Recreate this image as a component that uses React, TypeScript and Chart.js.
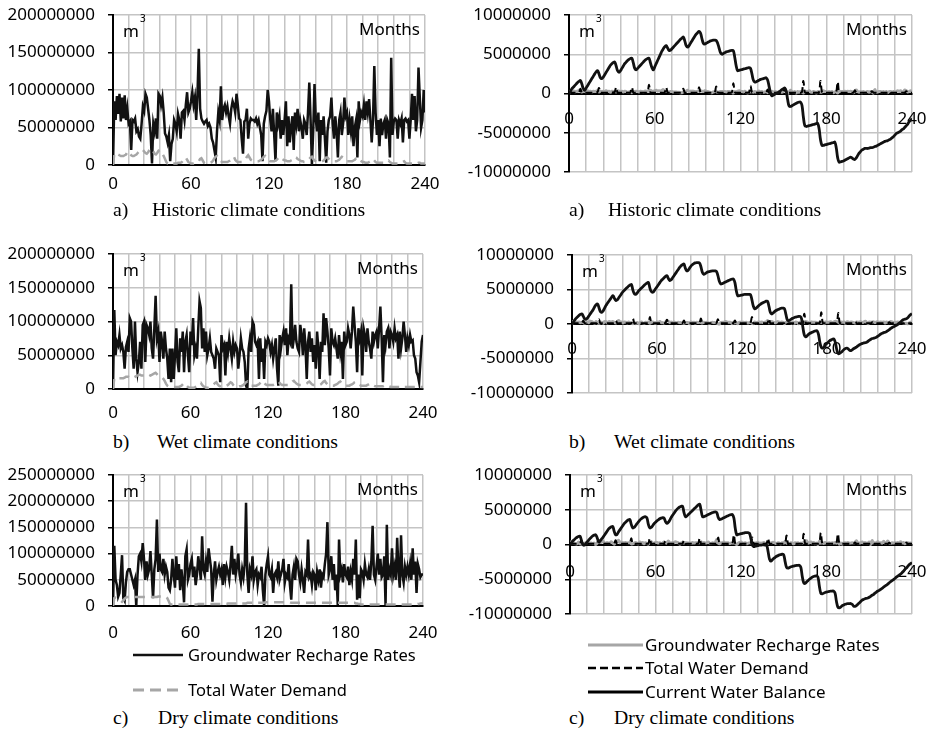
import React, { useEffect, useRef } from "react";
import { Chart, registerables } from "chart.js";

Chart.register(...registerables);

// ---------------- DATA ----------------
const X_LABELS = [0, 60, 120, 180, 240];
const UNIT = 1000000; // values below are in millions of m3

// Left column: Groundwater Recharge Rates / Total Water Demand (months 0..240)
const HIST_RECHARGE = [
  0, 85, 60, 92, 68, 95, 58, 90, 62, 93, 60, 75,
  55, 58, 20, 60, 58, 62, 45, 48, 38, 35, 55, 78,
  72, 95, 90, 75, 60, 40, 2, 55, 45, 62, 35, 95,
  92, 80, 90, 70, 42, 38, 30, 40, 5, 28, 35, 60,
  55, 45, 68, 60, 35, 70, 72, 60, 80, 97, 70, 75,
  85, 97, 80, 90, 60, 95, 155, 75, 62, 58, 55, 58,
  60, 52, 55, 50, 35, 30, 20, 10, 45, 70, 60, 105,
  60, 75, 80, 70, 78, 65, 55, 75, 85, 80, 70, 95,
  80, 62, 60, 35, 15, 58, 60, 75, 35, 55, 62, 60,
  60, 58, 62, 55, 60, 50, 40, 5, 55, 65, 72, 100,
  85, 60, 45, 75, 40, 5, 70, 55, 65, 35, 60, 40,
  60, 85, 25, 65, 30, 50, 65, 20, 70, 55, 75, 45,
  60, 50, 35, 60, 55, 40, 70, 110, 60, 0, 45, 108,
  60, 45, 70, 5, 60, 40, 65, 35, 3, 45, 60, 65,
  90, 55, 35, 65, 45, 10, 60, 70, 40, 55, 90, 65,
  70, 40, 60, 45, 65, 25, 50, 60, 10, 85, 60, 70,
  65, 80, 60, 85, 70, 88, 60, 30, 60, 132, 70, 40,
  60, 25, 62, 40, 55, 60, 35, 60, 55, 10, 143, 40,
  58, 62, 60, 35, 60, 55, 62, 30, 60, 62, 58, 60,
  35, 60, 95, 60, 92, 45, 60, 130, 90, 50, 60, 100,
  70,
];
const HIST_DEMAND = [
  0, 15, 16, 15, 14, 13, 12, 12, 12, 13, 14, 17,
  18, 15, 13, 12, 12, 13, 14, 16, 18, 20, 21, 20,
  18, 16, 15, 17, 20, 22, 21, 18, 15, 14, 16, 19,
  20, 18, 15, 12, 8, 4, 2, 2, 3, 3, 2, 2,
  2, 2, 3, 3, 3, 4, 6, 9, 10, 7, 4, 3,
  2, 2, 2, 3, 3, 4, 5, 8, 9, 6, 3, 2,
  2, 2, 2, 3, 4, 6, 9, 11, 12, 8, 6, 5,
  4, 4, 4, 4, 4, 5, 6, 8, 10, 11, 7, 5,
  4, 4, 4, 4, 5, 6, 8, 11, 13, 10, 7, 6,
  5, 5, 5, 5, 5, 6, 7, 9, 11, 12, 9, 7,
  6, 5, 5, 5, 5, 6, 7, 9, 11, 10, 8, 7,
  6, 6, 5, 5, 5, 6, 7, 9, 11, 10, 8, 7,
  6, 5, 5, 4, 4, 5, 6, 8, 10, 11, 8, 6,
  5, 4, 4, 4, 4, 5, 6, 8, 10, 10, 8, 6,
  5, 5, 5, 5, 5, 6, 7, 9, 11, 10, 8, 6,
  5, 5, 5, 5, 5, 6, 7, 9, 10, 8, 6, 5,
  4, 4, 3, 3, 3, 4, 5, 7, 8, 6, 4, 3,
  3, 3, 3, 3, 3, 3, 4, 5, 6, 4, 3, 2,
  2, 2, 2, 2, 2, 2, 3, 4, 5, 3, 2, 2,
  2, 2, 2, 2, 2, 2, 2, 3, 3, 2, 2, 2,
  2,
];
const WET_RECHARGE = [
  0, 117, 50, 70, 65, 80, 60, 65, 55, 30, 62, 70,
  55, 105, 100, 60, 30, 100, 45, 25, 40, 70, 30, 95,
  100, 40, 95, 90, 80, 100, 60, 45, 90, 138, 75, 85,
  40, 85, 70, 45, 85, 60, 45, 15, 60, 10, 60, 15,
  50, 90, 40, 25, 75, 55, 85, 25, 70, 80, 50, 25,
  85, 65, 105, 50, 60, 45, 90, 130, 120, 60, 90, 55,
  85, 50, 60, 75, 55, 50, 45, 30, 60, 55, 50, 10,
  80, 60, 65, 20, 70, 55, 75, 60, 45, 70, 55, 65,
  60, 30, 50, 75, 60, 55, 40, 5, 0, 60, 75, 55,
  100, 95, 70, 65, 70, 15, 75, 40, 60, 15, 70, 65,
  75, 70, 55, 65, 45, 60, 75, 30, 5, 80, 60, 75,
  85, 65, 90, 50, 75, 70, 155, 60, 75, 95, 70, 60,
  55, 95, 80, 50, 90, 65, 15, 70, 85, 55, 75, 40,
  65, 30, 85, 60, 15, 70, 55, 112, 65, 105, 85, 60,
  20, 90, 70, 65, 75, 60, 45, 80, 55, 70, 15, 85,
  65, 70, 90, 80, 60, 85, 122, 95, 70, 25, 90, 75,
  85, 20, 90, 80, 55, 90, 70, 60, 45, 85, 70, 80,
  85, 60, 90, 122, 75, 10, 80, 65, 85, 90, 60, 85,
  80, 70, 90, 75, 80, 45, 85, 60, 75, 100, 80, 55,
  75, 65, 80, 70, 72, 50, 45, 25, 20, 10, 40, 70,
  80,
];
const WET_DEMAND = [
  0, 16, 16, 16, 16, 16, 16, 16, 16, 17, 18, 18,
  18, 17, 16, 16, 17, 18, 19, 20, 21, 21, 20, 20,
  20, 21, 22, 22, 21, 20, 21, 22, 23, 24, 22, 20,
  19, 18, 17, 15, 12, 8, 5, 4, 3, 3, 3, 3,
  3, 3, 3, 3, 4, 5, 7, 9, 8, 5, 3, 2,
  2, 2, 2, 2, 3, 4, 6, 8, 9, 6, 4, 3,
  2, 2, 2, 3, 4, 5, 7, 9, 10, 7, 5, 4,
  3, 3, 3, 4, 5, 6, 8, 10, 9, 6, 4, 3,
  3, 3, 4, 4, 5, 6, 8, 10, 11, 8, 6, 5,
  5, 5, 5, 5, 6, 7, 9, 11, 12, 9, 7, 6,
  6, 6, 6, 6, 6, 7, 8, 10, 11, 9, 7, 6,
  6, 6, 6, 6, 6, 7, 9, 11, 12, 10, 8, 7,
  6, 6, 6, 6, 6, 7, 8, 10, 11, 9, 7, 6,
  6, 6, 6, 6, 6, 7, 9, 11, 12, 9, 7, 6,
  5, 5, 5, 5, 6, 7, 8, 10, 11, 9, 7, 6,
  5, 5, 5, 5, 6, 7, 8, 10, 11, 9, 7, 6,
  5, 5, 5, 5, 5, 6, 7, 8, 8, 6, 5, 4,
  4, 4, 4, 4, 4, 4, 5, 6, 6, 5, 4, 3,
  3, 3, 3, 3, 3, 3, 3, 4, 4, 3, 3, 3,
  3, 3, 3, 3, 3, 3, 3, 4, 4, 3, 3, 3,
  3,
];
const DRY_RECHARGE = [
  0, 115, 50, 40, 18, 25, 60, 97, 15, 10, 45, 65,
  70, 70, 60, 50, 40, 50, 0, 60, 95, 100, 85, 120,
  90, 50, 85, 60, 70, 105, 60, 15, 70, 90, 165, 65,
  100, 70, 65, 90, 60, 75, 65, 35, 30, 50, 90, 60,
  35, 95, 50, 80, 30, 70, 45, 7, 95, 108, 50, 60,
  80, 90, 55, 75, 40, 60, 95, 75, 50, 133, 70, 60,
  85, 65, 110, 90, 70, 8, 60, 85, 50, 65, 75, 60,
  70, 40, 80, 55, 75, 65, 50, 80, 115, 60, 90, 60,
  75, 100, 60, 45, 70, 55, 80, 197, 60, 25, 70, 60,
  95, 50, 65, 70, 40, 60, 55, 75, 30, 0, 60, 80,
  95, 60, 55, 70, 25, 60, 65, 55, 85, 50, 60, 70,
  90, 45, 60, 55, 80, 40, 12, 60, 75, 50, 90, 85,
  60, 45, 70, 50, 25, 65, 60, 127, 55, 60, 40, 65,
  60, 30, 65, 50, 70, 35, 60, 55, 80, 100, 160, 60,
  70, 95, 50, 80, 30, 60, 2, 127, 60, 70, 45, 80,
  60, 55, 75, 40, 65, 50, 90, 60, 127, 12, 60, 15,
  70, 65, 50, 80, 60, 55, 70, 50, 85, 153, 60, 50,
  75, 100, 60, 90, 55, 60, 95, 2, 155, 50, 70, 60,
  110, 60, 75, 50, 130, 70, 35, 135, 60, 45, 75, 60,
  75, 60, 80, 50, 110, 60, 85, 25, 80, 70, 55, 60,
  60,
];
const DRY_DEMAND = [
  0, 15, 16, 15, 14, 12, 10, 8, 10, 14, 16, 17,
  17, 17, 17, 17, 17, 17, 17, 17, 17, 17, 17, 17,
  17, 17, 17, 17, 17, 17, 17, 17, 17, 17, 17, 18,
  18, 18, 18, 18, 18, 17, 15, 10, 4, 3, 3, 3,
  3, 3, 3, 3, 3, 3, 3, 3, 3, 3, 3, 3,
  3, 3, 3, 3, 3, 3, 4, 4, 4, 4, 4, 4,
  4, 4, 4, 4, 4, 4, 4, 4, 4, 4, 4, 4,
  4, 4, 4, 4, 4, 5, 5, 5, 5, 5, 5, 5,
  5, 5, 5, 5, 5, 5, 5, 5, 6, 6, 6, 6,
  6, 6, 6, 6, 6, 6, 6, 6, 6, 6, 7, 7,
  7, 7, 7, 7, 7, 7, 7, 7, 7, 7, 7, 7,
  7, 7, 7, 7, 7, 7, 6, 6, 6, 6, 6, 6,
  6, 6, 6, 6, 6, 6, 6, 6, 6, 6, 6, 6,
  6, 6, 6, 6, 6, 6, 6, 6, 6, 6, 6, 6,
  6, 6, 6, 6, 6, 6, 6, 6, 6, 6, 6, 6,
  6, 6, 6, 6, 6, 6, 6, 6, 5, 5, 4, 4,
  3, 3, 3, 3, 3, 3, 3, 3, 3, 3, 3, 3,
  3, 3, 3, 3, 3, 3, 3, 3, 3, 3, 3, 3,
  3, 3, 3, 3, 3, 3, 3, 3, 3, 3, 3, 3,
  3, 3, 3, 3, 3, 3, 3, 3, 4, 4, 5, 5,
  6,
];

// Right column: Groundwater Recharge Rates / Total Water Demand / Current Water Balance
const HIST_R_RECHARGE = [
  0, 0.3, 0.25, 0.35, 0.2, 0.3, 0.25, 0.4, 0.3, 0.2, 0.25, 0.3,
  0.2, 0.35, 0.25, 0.3, 0.2, 0.3, 0.25, 0.3, 0.35, 0.2, 0.3, 0.25,
  0.3, 0.2, 0.35, 0.25, 0.3, 0.15, 0.3, 0.25, 0.3, 0.2, 0.35, 0.3,
  0.25, 0.3, 0.2, 0.3, 0.25, 0.15, 0.2, 0.25, 0.1, 0.2, 0.25, 0.3,
  0.25, 0.2, 0.3, 0.25, 0.2, 0.3, 0.3, 0.25, 0.35, 0.4, 0.3, 0.3,
  0.35, 0.4, 0.3, 0.35, 0.25, 0.4, 0.5, 0.3, 0.25, 0.25, 0.2, 0.25,
  0.25, 0.2, 0.2, 0.2, 0.15, 0.15, 0.1, 0.1, 0.2, 0.25, 0.3, 0.4,
  0.25, 0.3, 0.3, 0.3, 0.25, 0.2, 0.3, 0.3, 0.35, 0.3, 0.25, 0.35,
  0.3, 0.25, 0.2, 0.15, 0.1, 0.2, 0.25, 0.3, 0.15, 0.2, 0.25, 0.25,
  0.25, 0.25, 0.2, 0.25, 0.25, 0.2, 0.15, 0.05, 0.25, 0.2, 0.3, 0.35,
  0.3, 0.25, 0.2, 0.3, 0.15, 0.05, 0.25, 0.2, 0.25, 0.15, 0.25, 0.15,
  0.25, 0.3, 0.1, 0.25, 0.15, 0.2, 0.25, 0.1, 0.25, 0.2, 0.3, 0.2,
  0.25, 0.2, 0.15, 0.25, 0.2, 0.15, 0.25, 0.4, 0.25, 0.0, 0.2, 0.4,
  0.25, 0.2, 0.25, 0.05, 0.25, 0.15, 0.25, 0.15, 0.05, 0.2, 0.25, 0.25,
  0.35, 0.2, 0.15, 0.25, 0.2, 0.05, 0.25, 0.25, 0.15, 0.2, 0.35, 0.25,
  0.25, 0.15, 0.25, 0.2, 0.25, 0.1, 0.2, 0.25, 0.05, 0.3, 0.25, 0.25,
  0.25, 0.3, 0.25, 0.3, 0.25, 0.3, 0.25, 0.1, 0.25, 0.45, 0.25, 0.15,
  0.25, 0.1, 0.25, 0.15, 0.2, 0.25, 0.15, 0.25, 0.2, 0.05, 0.5, 0.15,
  0.2, 0.25, 0.25, 0.15, 0.25, 0.2, 0.25, 0.1, 0.25, 0.25, 0.2, 0.25,
  0.15, 0.25, 0.35, 0.25, 0.35, 0.15, 0.25, 0.45, 0.35, 0.2, 0.25, 0.35,
  0.25,
];
const HIST_R_DEMAND = [
  0, 0.15, 0.1, 0.1, 0.1, 0.1, 0.1, 0.15, 0.6, 0.1, 0.1, 0.1,
  0.1, 0.1, 0.1, 0.1, 0.1, 0.1, 0.1, 0.15, 0.2, 0.7, 0.1, 0.1,
  0.1, 0.1, 0.1, 0.1, 0.1, 0.1, 0.1, 0.15, 0.2, 0.8, 0.1, 0.1,
  0.1, 0.1, 0.1, 0.1, 0.1, 0.1, 0.1, 0.15, 0.8, 0.1, 0.1, 0.1,
  0.1, 0.1, 0.1, 0.1, 0.1, 0.1, 0.1, 0.15, 1.1, 0.1, 0.1, 0.1,
  0.1, 0.1, 0.1, 0.1, 0.1, 0.1, 0.1, 0.15, 0.8, 0.1, 0.1, 0.1,
  0.1, 0.1, 0.1, 0.1, 0.1, 0.1, 0.1, 0.15, 0.6, 0.1, 0.1, 0.1,
  0.1, 0.1, 0.1, 0.1, 0.1, 0.1, 0.1, 0.8, 0.15, 0.1, 0.1, 0.1,
  0.1, 0.1, 0.1, 0.1, 0.1, 0.1, 0.1, 0.9, 0.15, 0.1, 0.1, 0.1,
  0.1, 0.1, 0.1, 0.1, 0.1, 0.1, 0.15, 1.3, 0.15, 0.1, 0.1, 0.1,
  0.1, 0.1, 0.1, 0.1, 0.1, 0.1, 0.15, 1.0, 0.15, 0.1, 0.1, 0.1,
  0.1, 0.1, 0.1, 0.1, 0.1, 0.1, 0.1, 0.5, 0.1, 0.1, 0.1, 0.1,
  0.1, 0.1, 0.1, 0.1, 0.1, 0.1, 0.1, 0.7, 0.1, 0.1, 0.1, 0.1,
  0.1, 0.1, 0.1, 0.1, 0.1, 0.1, 0.1, 0.2, 1.6, 0.15, 0.1, 0.1,
  0.1, 0.1, 0.1, 0.1, 0.1, 0.1, 0.1, 0.2, 1.6, 0.15, 0.1, 0.1,
  0.1, 0.1, 0.1, 0.1, 0.1, 0.1, 0.1, 0.2, 1.5, 0.15, 0.1, 0.1,
  0.1, 0.1, 0.1, 0.1, 0.1, 0.1, 0.1, 0.1, 0.4, 0.1, 0.1, 0.1,
  0.1, 0.1, 0.1, 0.1, 0.1, 0.1, 0.1, 0.1, 0.3, 0.1, 0.1, 0.1,
  0.1, 0.1, 0.1, 0.1, 0.1, 0.1, 0.1, 0.1, 0.3, 0.1, 0.1, 0.1,
  0.1, 0.1, 0.1, 0.1, 0.1, 0.1, 0.1, 0.1, 0.3, 0.1, 0.1, 0.1,
  0.1,
];
const HIST_R_BALANCE = [
  0, 0.3, 0.6, 0.8, 1.0, 1.2, 1.4, 1.55, 1.65, 1.2, 0.6, 0.4,
  0.7, 1.0, 1.3, 1.6, 1.9, 2.2, 2.5, 2.75, 2.9, 2.5, 2.0, 1.9,
  2.1, 2.4, 2.7, 3.0, 3.3, 3.6, 3.8, 3.95, 4.0, 3.5, 2.9, 2.7,
  2.9, 3.2, 3.5, 3.8, 4.0, 4.2, 4.35, 4.45, 4.5, 3.9, 3.2, 3.0,
  3.2, 3.4, 3.6, 3.8, 4.0, 4.2, 4.35, 4.45, 4.5, 3.9, 3.3, 3.0,
  3.4, 3.8, 4.2, 4.6, 5.0, 5.4, 5.7, 5.95, 6.1, 5.8, 5.5, 5.5,
  5.7, 5.9, 6.1, 6.3, 6.5, 6.7, 6.9, 7.05, 7.2, 6.7, 6.1, 5.9,
  6.1, 6.4, 6.7, 7.0, 7.3, 7.55, 7.75, 7.9, 7.7, 7.0, 6.4, 6.3,
  6.4, 6.5, 6.6, 6.7, 6.75, 6.8, 6.8, 6.75, 6.4, 5.8, 5.2, 5.0,
  5.1, 5.2, 5.3, 5.35, 5.4, 5.45, 5.5, 5.45, 4.6, 3.5, 2.9, 2.95,
  3.0, 3.05, 3.1, 3.15, 3.2, 3.25, 3.3, 3.2, 2.5, 1.7, 1.45, 1.5,
  1.6, 1.7, 1.8, 1.85, 1.9, 1.95, 2.0, 1.7, 0.9, 0.1, -0.3, -0.2,
  -0.1, 0.0, 0.1, 0.2, 0.35, 0.5, 0.6, 0.7, 0.3, -0.8, -1.6, -1.65,
  -1.55, -1.45, -1.35, -1.25, -1.15, -1.1, -1.1, -1.5, -3.0, -4.1, -4.2, -4.15,
  -4.1, -4.05, -4.0, -3.95, -3.9, -3.85, -3.8, -4.5, -5.9, -6.6, -6.6, -6.55,
  -6.5, -6.45, -6.4, -6.35, -6.3, -6.25, -6.2, -6.9, -8.2, -8.75, -8.7, -8.65,
  -8.6, -8.5, -8.4, -8.3, -8.2, -8.1, -8.2, -8.35, -8.4, -8.2, -7.9, -7.6,
  -7.4, -7.2, -7.1, -7.0, -7.0, -7.0, -6.95, -6.9, -6.9, -6.85, -6.75, -6.7,
  -6.6, -6.5, -6.4, -6.3, -6.2, -6.1, -6.05, -6.0, -5.9, -5.8, -5.65, -5.5,
  -5.3, -5.1, -5.0, -4.9, -4.8, -4.6, -4.5, -4.3, -4.1, -3.9, -3.6, -3.4,
  -3.2,
];
const WET_R_RECHARGE = [
  0, 0.4, 0.2, 0.3, 0.25, 0.3, 0.2, 0.25, 0.2, 0.1, 0.25, 0.3,
  0.2, 0.4, 0.35, 0.2, 0.1, 0.35, 0.15, 0.1, 0.15, 0.25, 0.1, 0.35,
  0.35, 0.15, 0.35, 0.3, 0.3, 0.35, 0.2, 0.15, 0.3, 0.5, 0.25, 0.3,
  0.15, 0.3, 0.25, 0.15, 0.3, 0.2, 0.15, 0.05, 0.2, 0.05, 0.2, 0.05,
  0.2, 0.3, 0.15, 0.1, 0.25, 0.2, 0.3, 0.1, 0.25, 0.3, 0.2, 0.1,
  0.3, 0.25, 0.35, 0.2, 0.2, 0.15, 0.3, 0.45, 0.4, 0.2, 0.3, 0.2,
  0.3, 0.2, 0.2, 0.25, 0.2, 0.2, 0.15, 0.1, 0.2, 0.2, 0.2, 0.05,
  0.3, 0.2, 0.25, 0.1, 0.25, 0.2, 0.25, 0.2, 0.15, 0.25, 0.2, 0.25,
  0.2, 0.1, 0.2, 0.25, 0.2, 0.2, 0.15, 0.05, 0.0, 0.2, 0.25, 0.2,
  0.35, 0.35, 0.25, 0.25, 0.25, 0.05, 0.25, 0.15, 0.2, 0.05, 0.25, 0.25,
  0.25, 0.25, 0.2, 0.25, 0.15, 0.2, 0.25, 0.1, 0.05, 0.3, 0.2, 0.25,
  0.3, 0.25, 0.3, 0.2, 0.25, 0.25, 0.5, 0.2, 0.25, 0.35, 0.25, 0.2,
  0.2, 0.35, 0.3, 0.2, 0.3, 0.25, 0.05, 0.25, 0.3, 0.2, 0.25, 0.15,
  0.25, 0.1, 0.3, 0.2, 0.05, 0.25, 0.2, 0.4, 0.25, 0.35, 0.3, 0.2,
  0.1, 0.3, 0.25, 0.25, 0.25, 0.2, 0.15, 0.3, 0.2, 0.25, 0.05, 0.3,
  0.25, 0.25, 0.3, 0.3, 0.2, 0.3, 0.4, 0.35, 0.25, 0.1, 0.3, 0.25,
  0.3, 0.1, 0.3, 0.3, 0.2, 0.3, 0.25, 0.2, 0.15, 0.3, 0.25, 0.3,
  0.3, 0.2, 0.3, 0.4, 0.25, 0.05, 0.3, 0.25, 0.3, 0.3, 0.2, 0.3,
  0.3, 0.25, 0.3, 0.25, 0.3, 0.15, 0.3, 0.2, 0.25, 0.35, 0.3, 0.2,
  0.25, 0.25, 0.3, 0.25, 0.25, 0.2, 0.15, 0.1, 0.1, 0.05, 0.15, 0.25,
  0.3,
];
const WET_R_DEMAND = [
  0, 0.15, 0.1, 0.1, 0.1, 0.1, 0.1, 0.15, 0.5, 0.1, 0.1, 0.1,
  0.1, 0.1, 0.1, 0.1, 0.1, 0.1, 0.15, 0.7, 0.1, 0.1, 0.1, 0.1,
  0.1, 0.1, 0.1, 0.1, 0.1, 0.1, 0.15, 0.5, 0.1, 0.1, 0.1, 0.1,
  0.1, 0.1, 0.1, 0.1, 0.1, 0.1, 0.15, 0.8, 0.1, 0.1, 0.1, 0.1,
  0.1, 0.1, 0.1, 0.1, 0.1, 0.1, 0.15, 1.0, 0.1, 0.1, 0.1, 0.1,
  0.1, 0.1, 0.1, 0.1, 0.1, 0.1, 0.15, 0.6, 0.1, 0.1, 0.1, 0.1,
  0.1, 0.1, 0.1, 0.1, 0.1, 0.1, 0.15, 0.5, 0.1, 0.1, 0.1, 0.1,
  0.1, 0.1, 0.1, 0.1, 0.1, 0.1, 0.15, 0.8, 0.1, 0.1, 0.1, 0.1,
  0.1, 0.1, 0.1, 0.1, 0.1, 0.1, 0.15, 0.7, 0.1, 0.1, 0.1, 0.1,
  0.1, 0.1, 0.1, 0.1, 0.1, 0.1, 0.15, 0.5, 0.1, 0.1, 0.1, 0.1,
  0.1, 0.1, 0.1, 0.1, 0.1, 0.1, 0.15, 1.0, 0.1, 0.1, 0.1, 0.1,
  0.1, 0.1, 0.1, 0.1, 0.1, 0.1, 0.15, 0.8, 0.1, 0.1, 0.1, 0.1,
  0.1, 0.1, 0.1, 0.1, 0.1, 0.1, 0.15, 0.4, 0.1, 0.1, 0.1, 0.1,
  0.1, 0.1, 0.1, 0.1, 0.1, 0.1, 0.1, 0.2, 1.5, 0.15, 0.1, 0.1,
  0.1, 0.1, 0.1, 0.1, 0.1, 0.1, 0.1, 0.2, 1.7, 0.15, 0.1, 0.1,
  0.1, 0.1, 0.1, 0.1, 0.1, 0.1, 0.1, 0.2, 1.6, 0.15, 0.1, 0.1,
  0.1, 0.1, 0.1, 0.1, 0.1, 0.1, 0.1, 0.1, 0.3, 0.1, 0.1, 0.1,
  0.1, 0.1, 0.1, 0.1, 0.1, 0.1, 0.1, 0.1, 0.25, 0.1, 0.1, 0.1,
  0.1, 0.1, 0.1, 0.1, 0.1, 0.1, 0.1, 0.1, 0.25, 0.1, 0.1, 0.1,
  0.1, 0.1, 0.1, 0.1, 0.1, 0.1, 0.1, 0.1, 0.25, 0.1, 0.1, 0.1,
  0.1,
];
const WET_R_BALANCE = [
  0, 0.3, 0.6, 0.85, 1.05, 1.25, 1.4, 1.45, 1.1, 0.75, 0.7, 0.9,
  1.2, 1.5, 1.8, 2.1, 2.5, 2.8, 2.9, 2.4, 1.8, 1.7, 1.9, 2.3,
  2.7, 3.0, 3.3, 3.6, 3.9, 4.1, 3.7, 3.4, 3.5, 3.8, 4.1, 4.4,
  4.7, 4.9, 5.1, 5.3, 5.5, 5.65, 5.7, 4.9, 4.4, 4.3, 4.5, 4.8,
  5.0, 5.2, 5.4, 5.6, 5.8, 5.95, 6.0, 5.2, 4.7, 4.6, 4.8, 5.1,
  5.4, 5.7, 6.0, 6.3, 6.5, 6.7, 6.9, 7.0, 6.6, 6.3, 6.4, 6.7,
  7.0, 7.3, 7.6, 7.9, 8.2, 8.45, 8.6, 8.7, 8.1, 7.7, 7.8, 8.1,
  8.4, 8.6, 8.75, 8.85, 8.9, 8.9, 8.85, 8.3, 7.5, 7.2, 7.3, 7.45,
  7.55, 7.6, 7.65, 7.7, 7.7, 7.7, 7.6, 7.0, 6.2, 5.8, 5.85, 5.95,
  6.05, 6.15, 6.25, 6.35, 6.45, 6.5, 6.5, 6.0, 4.8, 4.1, 4.1, 4.15,
  4.2, 4.25, 4.3, 4.3, 4.3, 4.3, 4.25, 3.5, 2.6, 2.2, 2.3, 2.5,
  2.7, 2.85, 3.0, 3.1, 3.2, 3.3, 3.3, 2.6, 1.7, 1.45, 1.6, 1.8,
  1.95, 2.05, 2.15, 2.25, 2.3, 2.3, 2.2, 1.4, 0.6, 0.5, 0.6, 0.75,
  0.85, 0.95, 1.0, 1.05, 1.1, 1.1, 0.8, -0.5, -1.6, -1.85, -1.7, -1.5,
  -1.35, -1.25, -1.15, -1.05, -1.0, -1.0, -1.5, -2.7, -3.4, -3.5, -3.3, -3.0,
  -2.8, -2.6, -2.4, -2.3, -2.2, -2.2, -2.8, -3.8, -4.3, -4.25, -4.1, -3.9,
  -3.7, -3.55, -3.5, -3.6, -3.8, -3.85, -3.7, -3.55, -3.45, -3.3, -3.15, -3.0,
  -2.9, -2.8, -2.75, -2.7, -2.65, -2.5, -2.35, -2.2, -2.1, -2.05, -2.0, -1.9,
  -1.75, -1.6, -1.45, -1.35, -1.25, -1.2, -1.1, -0.95, -0.8, -0.65, -0.5, -0.4,
  -0.3, -0.2, -0.05, 0.1, 0.3, 0.5, 0.65, 0.7, 0.75, 0.9, 1.15, 1.35,
  1.5,
];
const DRY_R_RECHARGE = [
  0, 0.4, 0.2, 0.15, 0.1, 0.1, 0.35, 0.1, 0.05, 0.05, 0.15, 0.25,
  0.25, 0.25, 0.2, 0.2, 0.15, 0.2, 0.0, 0.2, 0.35, 0.35, 0.3, 0.45,
  0.3, 0.2, 0.3, 0.2, 0.25, 0.4, 0.2, 0.05, 0.25, 0.3, 0.6, 0.25,
  0.35, 0.25, 0.25, 0.3, 0.2, 0.25, 0.25, 0.1, 0.1, 0.2, 0.3, 0.2,
  0.1, 0.35, 0.2, 0.3, 0.1, 0.25, 0.15, 0.05, 0.35, 0.4, 0.2, 0.2,
  0.3, 0.3, 0.2, 0.25, 0.15, 0.2, 0.35, 0.25, 0.2, 0.5, 0.25, 0.2,
  0.3, 0.25, 0.4, 0.3, 0.25, 0.05, 0.2, 0.3, 0.2, 0.25, 0.25, 0.2,
  0.25, 0.15, 0.3, 0.2, 0.25, 0.25, 0.2, 0.3, 0.4, 0.2, 0.3, 0.2,
  0.25, 0.35, 0.2, 0.15, 0.25, 0.2, 0.3, 0.7, 0.2, 0.1, 0.25, 0.2,
  0.35, 0.2, 0.25, 0.25, 0.15, 0.2, 0.2, 0.25, 0.1, 0.0, 0.2, 0.3,
  0.35, 0.2, 0.2, 0.25, 0.1, 0.2, 0.25, 0.2, 0.3, 0.2, 0.2, 0.25,
  0.3, 0.15, 0.2, 0.2, 0.3, 0.15, 0.05, 0.2, 0.25, 0.2, 0.3, 0.3,
  0.2, 0.15, 0.25, 0.2, 0.1, 0.25, 0.2, 0.45, 0.2, 0.2, 0.15, 0.25,
  0.2, 0.1, 0.25, 0.2, 0.25, 0.15, 0.2, 0.2, 0.3, 0.35, 0.55, 0.2,
  0.25, 0.35, 0.2, 0.3, 0.1, 0.2, 0.0, 0.45, 0.2, 0.25, 0.15, 0.3,
  0.2, 0.2, 0.25, 0.15, 0.25, 0.2, 0.3, 0.2, 0.45, 0.05, 0.2, 0.05,
  0.25, 0.25, 0.2, 0.3, 0.2, 0.2, 0.25, 0.2, 0.3, 0.55, 0.2, 0.2,
  0.25, 0.35, 0.2, 0.3, 0.2, 0.2, 0.35, 0.0, 0.55, 0.2, 0.25, 0.2,
  0.4, 0.2, 0.25, 0.2, 0.45, 0.25, 0.15, 0.5, 0.2, 0.15, 0.25, 0.2,
  0.25, 0.2, 0.3, 0.2, 0.4, 0.2, 0.3, 0.1, 0.3, 0.25, 0.2, 0.2,
  0.2,
];
const DRY_R_DEMAND = [
  0, 0.15, 0.1, 0.1, 0.1, 0.1, 0.1, 0.15, 0.6, 0.1, 0.1, 0.1,
  0.1, 0.1, 0.1, 0.1, 0.1, 0.1, 0.1, 0.15, 0.7, 0.1, 0.1, 0.1,
  0.1, 0.1, 0.1, 0.1, 0.1, 0.1, 0.1, 0.15, 0.6, 0.1, 0.1, 0.1,
  0.1, 0.1, 0.1, 0.1, 0.1, 0.1, 0.15, 0.9, 0.1, 0.1, 0.1, 0.1,
  0.1, 0.1, 0.1, 0.1, 0.1, 0.1, 0.1, 0.15, 0.9, 0.1, 0.1, 0.1,
  0.1, 0.1, 0.1, 0.1, 0.1, 0.1, 0.15, 0.5, 0.1, 0.1, 0.1, 0.1,
  0.1, 0.1, 0.1, 0.1, 0.1, 0.1, 0.1, 0.15, 0.6, 0.1, 0.1, 0.1,
  0.1, 0.1, 0.1, 0.1, 0.1, 0.1, 0.15, 0.9, 0.1, 0.1, 0.1, 0.1,
  0.1, 0.1, 0.1, 0.1, 0.1, 0.1, 0.1, 0.15, 1.0, 0.1, 0.1, 0.1,
  0.1, 0.1, 0.1, 0.1, 0.1, 0.1, 0.15, 1.4, 0.1, 0.1, 0.1, 0.1,
  0.1, 0.1, 0.1, 0.1, 0.1, 0.1, 0.1, 0.15, 1.0, 0.1, 0.1, 0.1,
  0.1, 0.1, 0.1, 0.1, 0.1, 0.1, 0.15, 0.9, 0.1, 0.1, 0.1, 0.1,
  0.1, 0.1, 0.1, 0.1, 0.1, 0.1, 0.1, 0.15, 1.3, 0.1, 0.1, 0.1,
  0.1, 0.1, 0.1, 0.1, 0.1, 0.1, 0.1, 0.2, 1.55, 0.15, 0.1, 0.1,
  0.1, 0.1, 0.1, 0.1, 0.1, 0.1, 0.1, 0.2, 1.7, 0.15, 0.1, 0.1,
  0.1, 0.1, 0.1, 0.1, 0.1, 0.1, 0.1, 0.2, 1.55, 0.15, 0.1, 0.1,
  0.1, 0.1, 0.1, 0.1, 0.1, 0.1, 0.1, 0.1, 0.3, 0.1, 0.1, 0.1,
  0.1, 0.1, 0.1, 0.1, 0.1, 0.1, 0.1, 0.1, 0.25, 0.1, 0.1, 0.1,
  0.1, 0.1, 0.1, 0.1, 0.1, 0.1, 0.1, 0.1, 0.25, 0.1, 0.1, 0.1,
  0.1, 0.1, 0.1, 0.1, 0.1, 0.1, 0.1, 0.1, 0.25, 0.1, 0.1, 0.1,
  0.1,
];
const DRY_R_BALANCE = [
  0, 0.25, 0.5, 0.7, 0.9, 1.05, 1.15, 1.2, 0.6, 0.0, -0.1, 0.1,
  0.35, 0.6, 0.85, 1.05, 1.25, 1.35, 1.4, 1.0, 0.5, 0.5, 0.75, 1.0,
  1.3, 1.6, 1.9, 2.2, 2.4, 2.55, 2.6, 1.9, 1.4, 1.45, 1.8, 2.1,
  2.4, 2.7, 3.0, 3.2, 3.4, 3.55, 3.6, 2.9, 2.4, 2.45, 2.7, 3.0,
  3.25, 3.5, 3.7, 3.85, 3.95, 4.0, 3.8, 2.9, 2.4, 2.45, 2.7, 3.0,
  3.2, 3.4, 3.55, 3.7, 3.8, 3.85, 3.8, 3.3, 3.05, 3.2, 3.5, 3.9,
  4.2, 4.5, 4.8, 5.05, 5.25, 5.4, 5.5, 5.5, 4.6, 4.0, 4.1, 4.3,
  4.5, 4.7, 4.9, 5.1, 5.3, 5.5, 5.7, 5.8, 4.9, 4.0, 4.0, 4.1,
  4.2, 4.3, 4.4, 4.5, 4.6, 4.65, 4.7, 4.6, 3.9, 3.6, 3.65, 3.75,
  3.85, 3.95, 4.05, 4.15, 4.25, 4.3, 4.3, 3.8, 2.3, 1.4, 1.45, 1.5,
  1.55, 1.6, 1.65, 1.7, 1.7, 1.7, 1.6, 0.8, -0.1, -0.3, -0.25, -0.2,
  -0.15, -0.1, -0.1, -0.05, -0.05, -0.1, -0.1, -1.0, -2.1, -2.4, -2.2, -2.0,
  -1.85, -1.7, -1.6, -1.5, -1.45, -1.4, -1.5, -2.5, -3.3, -3.4, -3.3, -3.2,
  -3.15, -3.1, -3.05, -3.0, -3.0, -3.0, -3.3, -4.6, -5.5, -5.6, -5.4, -5.2,
  -5.0, -4.85, -4.7, -4.6, -4.55, -4.5, -4.7, -6.0, -7.0, -7.1, -7.0, -6.9,
  -6.85, -6.8, -6.75, -6.7, -6.7, -6.7, -7.0, -8.2, -9.0, -9.1, -9.0, -8.8,
  -8.7, -8.6, -8.55, -8.5, -8.5, -8.5, -8.6, -8.85, -8.9, -8.8, -8.6, -8.4,
  -8.2, -8.0, -7.9, -7.8, -7.75, -7.7, -7.6, -7.45, -7.3, -7.2, -7.0, -6.85,
  -6.7, -6.6, -6.45, -6.3, -6.15, -6.0, -5.85, -5.7, -5.5, -5.35, -5.2, -5.05,
  -4.9, -4.7, -4.55, -4.4, -4.25, -4.05, -3.85, -3.6, -3.4, -3.15, -2.9, -2.75,
  -2.6,
];

// ---------------- STYLE ----------------
const SANS = '"Noto Sans", "Open Sans", sans-serif';
const SERIF = '"Liberation Serif", "Times New Roman", serif';
const GRID = "#c4c4c4";
const LIGHT = "#a6a6a6";
const DARK = "#111111";

const toPoints = (arr: number[]) => arr.map((v, i) => ({ x: i, y: v * UNIT }));

const unitsPlugin = {
  id: "unitsText",
  afterDraw(chart: any) {
    const { ctx, chartArea: a } = chart;
    ctx.save();
    ctx.fillStyle = "#000";
    ctx.textBaseline = "alphabetic";
    ctx.textAlign = "left";
    ctx.font = `17px ${SANS}`;
    ctx.fillText("m", a.left + 10, a.top + 22);
    ctx.font = `10px ${SANS}`;
    ctx.fillText("3", a.left + 27, a.top + 7);
    ctx.font = `17px ${SANS}`;
    ctx.textAlign = "right";
    ctx.fillText("Months", a.right - 5, a.top + 20);
    ctx.restore();
  },
};

type Box = { x: number; y: number; w: number; h: number };
type Area = { l: number; t: number; r: number; b: number };

type PanelProps = {
  box: Box;
  area: Area;
  yMin: number;
  yMax: number;
  yStep: number;
  axisAtZero: boolean;
  labelPad: number;
  datasets: any[];
};

function Panel({ box, area, yMin, yMax, yStep, axisAtZero, labelPad, datasets }: PanelProps) {
  const ref = useRef<HTMLCanvasElement | null>(null);
  useEffect(() => {
    const canvas = ref.current;
    if (!canvas) return;
    const yW = area.l - box.x;
    const padTop = area.t - box.y;
    const padRight = box.x + box.w - area.r;
    const below = box.y + box.h - area.b;
    const tickFont = { family: SANS, size: 17 };
    const chart = new Chart(canvas, {
      type: "line",
      data: { datasets },
      options: {
        animation: false,
        responsive: false,
        maintainAspectRatio: false,
        events: [],
        layout: {
          padding: { left: 0, top: padTop, right: padRight, bottom: axisAtZero ? below : 0 },
        },
        plugins: { legend: { display: false }, tooltip: { enabled: false } },
        elements: { point: { radius: 0 } },
        scales: {
          x: {
            type: "linear",
            min: 0,
            max: 240,
            position: axisAtZero ? { y: 0 } : "bottom",
            afterFit: (s: any) => {
              s.height = axisAtZero ? 0 : below;
              s.paddingLeft = 0;
              s.paddingRight = 0;
            },
            grid: { color: GRID, lineWidth: 1.5, drawTicks: false },
            border: { color: "#000", width: 2 },
            ticks: {
              stepSize: 12,
              maxTicksLimit: 100,
              autoSkip: false,
              maxRotation: 0,
              padding: labelPad,
              color: "#000",
              font: tickFont,
              callback: (v: any) => (X_LABELS.includes(Number(v)) ? String(v) : ""),
            },
          },
          y: {
            type: "linear",
            min: yMin,
            max: yMax,
            afterFit: (s: any) => {
              s.width = yW;
              s.paddingTop = 0;
              s.paddingBottom = 0;
            },
            grid: { color: GRID, lineWidth: 1.5, drawTicks: true, tickLength: 5, tickColor: "#000" },
            border: { color: "#000", width: 2 },
            ticks: {
              stepSize: yStep,
              padding: 13,
              color: "#000",
              font: tickFont,
              callback: (v: any) => String(Math.round(Number(v))),
            },
          },
        },
      } as any,
      plugins: [unitsPlugin],
    });
    return () => chart.destroy();
  }, []);
  return (
    <canvas
      ref={ref}
      width={box.w}
      height={box.h}
      style={{ position: "absolute", left: box.x, top: box.y, width: box.w, height: box.h }}
    />
  );
}

// Left charts: demand (gray dashed) drawn on top of recharge (black)
const leftSets = (rech: number[], dem: number[]) => [
  {
    label: "Total Water Demand",
    data: toPoints(dem),
    borderColor: LIGHT,
    borderWidth: 2.5,
    borderDash: [10, 6],
    pointRadius: 0,
    tension: 0,
    fill: false,
  },
  {
    label: "Groundwater Recharge Rates",
    data: toPoints(rech),
    borderColor: DARK,
    borderWidth: 2.5,
    pointRadius: 0,
    tension: 0,
    fill: false,
  },
];

// Right charts: smoothed lines, balance on top
const rightSets = (rech: number[], dem: number[], bal: number[]) => [
  {
    label: "Current Water Balance",
    data: toPoints(bal),
    borderColor: DARK,
    borderWidth: 2.8,
    pointRadius: 0,
    tension: 0.4,
    fill: false,
  },
  {
    label: "Total Water Demand",
    data: toPoints(dem),
    borderColor: "#000",
    borderWidth: 2,
    borderDash: [7, 4],
    pointRadius: 0,
    tension: 0.4,
    fill: false,
  },
  {
    label: "Groundwater Recharge Rates",
    data: toPoints(rech),
    borderColor: LIGHT,
    borderWidth: 3,
    pointRadius: 0,
    tension: 0.4,
    fill: false,
  },
];

function Caption({ x, y, letter, text, textX }: { x: number; y: number; letter: string; text: string; textX: number }) {
  const base: React.CSSProperties = {
    position: "absolute",
    top: y - 12,
    lineHeight: "24px",
    fontFamily: SERIF,
    fontSize: 19.7,
    color: "#000",
    whiteSpace: "nowrap",
  };
  return (
    <>
      <div style={{ ...base, left: x }}>{letter}</div>
      <div style={{ ...base, left: textX }}>{text}</div>
    </>
  );
}

function LegendItem({
  x,
  y,
  len,
  textX,
  text,
  color,
  width,
  dash,
  fontSize,
}: {
  x: number;
  y: number;
  len: number;
  textX: number;
  text: string;
  color: string;
  width: number;
  dash?: string;
  fontSize: number;
}) {
  return (
    <>
      <svg
        width={len}
        height={10}
        style={{ position: "absolute", left: x, top: y - 5, overflow: "visible" }}
      >
        <line x1={0} y1={5} x2={len} y2={5} stroke={color} strokeWidth={width} strokeDasharray={dash} />
      </svg>
      <div
        style={{
          position: "absolute",
          left: textX,
          top: y - 12,
          lineHeight: "24px",
          fontFamily: SANS,
          fontSize,
          color: "#000",
          whiteSpace: "nowrap",
        }}
      >
        {text}
      </div>
    </>
  );
}

export default function App() {
  return (
    <div
      style={{
        position: "absolute",
        left: 0,
        top: 0,
        width: 931,
        height: 736,
        background: "#fff",
        overflow: "hidden",
      }}
    >
      <Panel
        box={{ x: 0, y: 0, w: 445, h: 200 }}
        area={{ l: 113, t: 15, r: 425, b: 165 }}
        yMin={0}
        yMax={200000000}
        yStep={50000000}
        axisAtZero={false}
        labelPad={9}
        datasets={leftSets(HIST_RECHARGE, HIST_DEMAND)}
      />
      <Panel
        box={{ x: 0, y: 232, w: 445, h: 192 }}
        area={{ l: 113, t: 254, r: 423, b: 389 }}
        yMin={0}
        yMax={200000000}
        yStep={50000000}
        axisAtZero={false}
        labelPad={14}
        datasets={leftSets(WET_RECHARGE, WET_DEMAND)}
      />
      <Panel
        box={{ x: 0, y: 458, w: 445, h: 187 }}
        area={{ l: 113, t: 475, r: 423, b: 606 }}
        yMin={0}
        yMax={250000000}
        yStep={50000000}
        axisAtZero={false}
        labelPad={17}
        datasets={leftSets(DRY_RECHARGE, DRY_DEMAND)}
      />

      <Panel
        box={{ x: 465, y: 0, w: 466, h: 200 }}
        area={{ l: 569, t: 15, r: 912, b: 172 }}
        yMin={-10000000}
        yMax={10000000}
        yStep={5000000}
        axisAtZero={true}
        labelPad={15}
        datasets={rightSets(HIST_R_RECHARGE, HIST_R_DEMAND, HIST_R_BALANCE)}
      />
      <Panel
        box={{ x: 465, y: 232, w: 466, h: 192 }}
        area={{ l: 572, t: 255, r: 912, b: 393 }}
        yMin={-10000000}
        yMax={10000000}
        yStep={5000000}
        axisAtZero={true}
        labelPad={15}
        datasets={rightSets(WET_R_RECHARGE, WET_R_DEMAND, WET_R_BALANCE)}
      />
      <Panel
        box={{ x: 465, y: 458, w: 466, h: 180 }}
        area={{ l: 570, t: 475, r: 912, b: 614 }}
        yMin={-10000000}
        yMax={10000000}
        yStep={5000000}
        axisAtZero={true}
        labelPad={17}
        datasets={rightSets(DRY_R_RECHARGE, DRY_R_DEMAND, DRY_R_BALANCE)}
      />

      <Caption x={113} y={209} letter="a)" textX={152} text="Historic climate conditions" />
      <Caption x={569} y={209} letter="a)" textX={608} text="Historic climate conditions" />
      <Caption x={113} y={441} letter="b)" textX={157} text="Wet climate conditions" />
      <Caption x={569} y={441} letter="b)" textX={614} text="Wet climate conditions" />
      <Caption x={113} y={717} letter="c)" textX={158} text="Dry climate conditions" />
      <Caption x={569} y={717} letter="c)" textX={614} text="Dry climate conditions" />

      <LegendItem x={133} y={655} len={50} textX={188} text="Groundwater Recharge Rates" color={DARK} width={2.5} fontSize={16.5} />
      <LegendItem x={133} y={690} len={50} textX={188} text="Total Water Demand" color={LIGHT} width={3} dash="11 6" fontSize={16.5} />

      <LegendItem x={588} y={645} len={55} textX={645} text="Groundwater Recharge Rates" color={LIGHT} width={3} fontSize={17} />
      <LegendItem x={588} y={668} len={55} textX={645} text="Total Water Demand" color="#000" width={2.5} dash="8 4" fontSize={17} />
      <LegendItem x={588} y={692} len={55} textX={645} text="Current Water Balance" color="#000" width={3} fontSize={17} />
    </div>
  );
}
